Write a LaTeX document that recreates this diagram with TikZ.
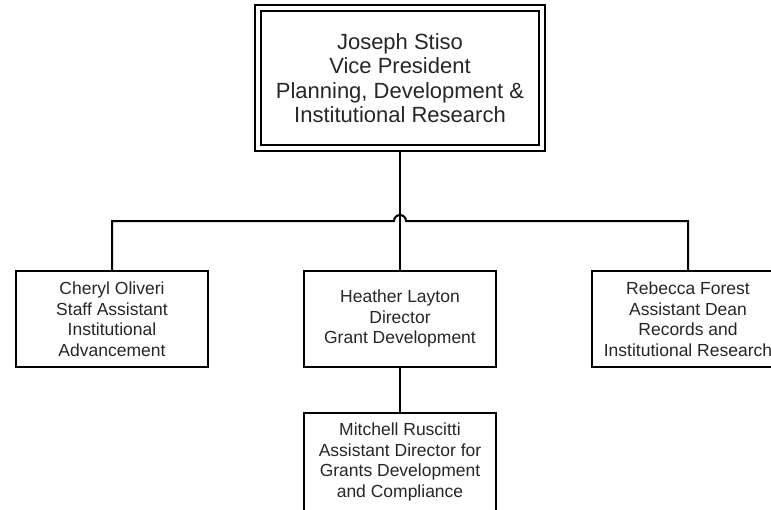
\documentclass[tikz,border=0pt]{standalone}
\usepackage{fontspec}
\setmainfont{Liberation Sans}
\begin{document}
\begin{tikzpicture}[x=1pt,y=-1pt,
  box/.style={draw=black,line width=2pt,minimum width=192pt,minimum height=96pt,align=center,inner sep=0pt,font=\fontsize{17.5}{20.5}\selectfont,text=black!85},
  conn/.style={draw=black,line width=2pt}]
\useasboundingbox (0,0) rectangle (771,509);
\node[draw=black,line width=2pt,minimum width=290pt,minimum height=146pt,inner sep=0pt] (vpo) at (400,78) {};
\node[draw=black,line width=1.5pt,minimum width=278pt,minimum height=134pt,inner sep=0pt,align=center,font=\fontsize{22}{24.5}\selectfont,text=black!85] (vp) at (400,78) {Joseph Stiso\\Vice President\\Planning, Development \&\\Institutional Research};
\node[box] (co) at (112,319) {Cheryl Oliveri\\Staff Assistant\\Institutional\\Advancement};
\node[box] (hl) at (400,318.5) {Heather Layton\\Director\\Grant Development};
\node[box] (rf) at (688,319) {Rebecca Forest\\Assistant Dean\\Records and\\Institutional Research};
\node[box,minimum height=98pt] (mr) at (400,462) {Mitchell Ruscitti\\Assistant Director for\\Grants Development\\and Compliance};
\coordinate (hopL) at (394,221);
\coordinate (hopR) at (406,221);
\draw[conn] (co.north) |- (hopL) arc[start angle=180,end angle=0,radius=6pt] -- (rf.north |- hopR) -- (rf.north);
\draw[conn] (vpo.south) -- (hl.north);
\draw[conn] (hl.south) -- (mr.north);
\end{tikzpicture}
\end{document}
